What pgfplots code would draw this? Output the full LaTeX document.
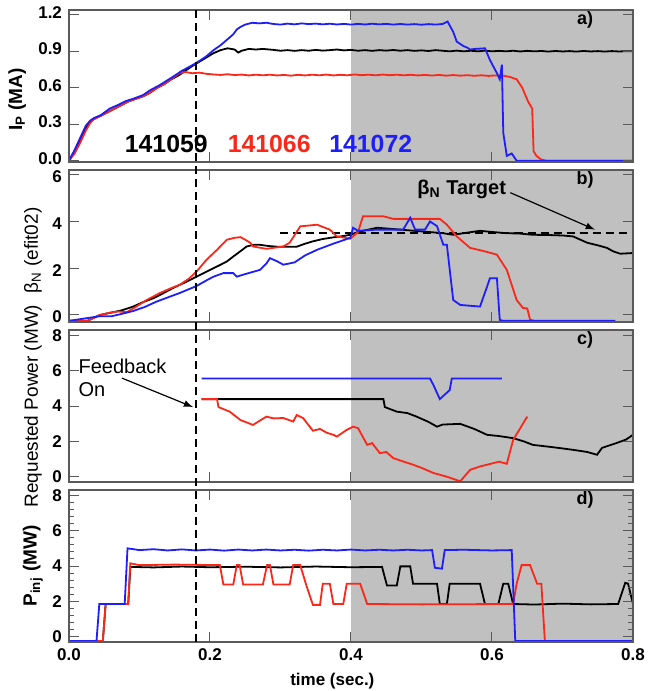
\documentclass[border=0pt]{standalone}
\usepackage{fontspec}
\setmainfont{Liberation Sans}
\usepackage{pgfplots}
\pgfplotsset{compat=1.18}

\definecolor{shade}{RGB}{192,192,192}
\definecolor{pred}{RGB}{250,40,25}
\definecolor{pblue}{RGB}{30,30,250}
\definecolor{frame}{RGB}{90,90,90}

\tikzset{tag/.style={font=\bfseries\fontsize{9}{10}\selectfont}}

\pgfplotsset{
  panel/.style={
    width=282pt, height=76pt, scale only axis,
    anchor=north west,
    xmin=0, xmax=0.8,
    xtick={0,0.2,0.4,0.6,0.8},
    xticklabels={},
    axis on top,
    axis line style={frame, line width=0.6pt},
    major tick length=5pt, minor tick length=2.5pt,
    every tick/.style={frame, line width=0.5pt},
    tick label style={font=\bfseries\fontsize{8.5}{10}\selectfont},
    /pgf/number format/assume math mode=true,
    ylabel style={anchor=center, font=\fontsize{9.5}{11}\selectfont},
    every axis plot/.append style={line width=0.9pt},
  },
  shading/.style={draw=none, fill=shade, forget plot},
}

\begin{document}
\begin{tikzpicture}
\useasboundingbox (0,0) rectangle (324.5pt,-345.5pt);

% ---------------- a) plasma current
\begin{axis}[panel, at={(34.5pt,-5pt)},
    ymin=-0.01, ymax=1.24,
    ytick={0,0.3,0.6,0.9,1.2},
    yticklabel style={yshift=1.2pt, /pgf/number format/.cd, fixed, fixed zerofill, precision=1},
    ylabel={\bfseries I\textsubscript{P} (MA)},
    ylabel style={at={(axis description cs:-0.092,0.41)}},
]
\addplot[shading] coordinates {(0.4,-1)(0.8,-1)(0.8,2)(0.4,2)} -- cycle;
\addplot[black] coordinates {
(0,0)(0.008,0.08)(0.016,0.17)(0.024,0.27)(0.03,0.32)(0.035,0.345)(0.045,0.37)(0.055,0.40)
(0.065,0.43)(0.075,0.46)(0.085,0.49)(0.095,0.51)(0.105,0.53)(0.115,0.56)(0.125,0.60)
(0.135,0.63)(0.145,0.67)(0.155,0.70)(0.165,0.74)(0.175,0.78)(0.185,0.815)(0.195,0.85)
(0.205,0.885)(0.215,0.91)(0.225,0.925)(0.235,0.915)(0.24,0.89)(0.245,0.905)(0.255,0.92)
(0.265,0.915)(0.275,0.92)(0.29,0.912)(0.30,0.905)(0.31,0.91)(0.32,0.904)(0.33,0.91)
(0.34,0.905)(0.35,0.912)(0.36,0.906)(0.37,0.91)(0.38,0.915)(0.39,0.908)(0.40,0.912)
(0.41,0.905)(0.42,0.91)(0.43,0.904)(0.44,0.91)(0.45,0.906)(0.46,0.911)(0.47,0.905)
(0.48,0.91)(0.49,0.904)(0.50,0.908)(0.51,0.903)(0.52,0.91)(0.53,0.905)(0.54,0.9)
(0.55,0.906)(0.56,0.9)(0.57,0.905)(0.58,0.9)(0.59,0.906)(0.60,0.9)(0.61,0.904)
(0.62,0.9)(0.63,0.905)(0.64,0.899)(0.65,0.904)(0.66,0.9)(0.67,0.903)(0.68,0.898)
(0.69,0.903)(0.70,0.899)(0.71,0.902)(0.72,0.898)(0.73,0.903)(0.74,0.899)(0.75,0.902)
(0.76,0.898)(0.77,0.902)(0.78,0.899)(0.79,0.901)(0.80,0.9)
};
\addplot[pred] coordinates {
(0,0)(0.008,0.06)(0.016,0.15)(0.024,0.25)(0.03,0.31)(0.035,0.34)(0.045,0.37)(0.055,0.40)
(0.065,0.43)(0.075,0.46)(0.085,0.49)(0.095,0.51)(0.105,0.53)(0.115,0.56)(0.125,0.60)
(0.135,0.63)(0.145,0.67)(0.152,0.70)(0.157,0.72)(0.165,0.73)(0.175,0.72)(0.185,0.725)
(0.195,0.715)(0.205,0.71)(0.215,0.706)(0.225,0.712)(0.235,0.705)(0.245,0.709)(0.255,0.702)
(0.265,0.708)(0.275,0.703)(0.285,0.708)(0.295,0.702)(0.305,0.706)(0.315,0.7)(0.325,0.707)
(0.335,0.702)(0.345,0.708)(0.355,0.703)(0.365,0.709)(0.375,0.702)(0.385,0.707)(0.395,0.703)
(0.405,0.71)(0.415,0.704)(0.425,0.708)(0.435,0.703)(0.445,0.709)(0.455,0.704)(0.465,0.708)
(0.475,0.703)(0.485,0.707)(0.495,0.702)(0.505,0.706)(0.515,0.701)(0.525,0.706)(0.535,0.7)
(0.545,0.705)(0.555,0.7)(0.565,0.704)(0.575,0.699)(0.585,0.703)(0.595,0.698)(0.605,0.702)
(0.616,0.70)(0.625,0.69)(0.635,0.67)(0.643,0.60)(0.651,0.49)(0.657,0.43)(0.659,0.08)
(0.663,0.04)(0.67,0.01)(0.677,0)(0.8,0)
};
\addplot[pblue] coordinates {
(0,0)(0.008,0.09)(0.016,0.19)(0.024,0.29)(0.03,0.33)(0.035,0.35)(0.045,0.375)(0.058,0.43)
(0.07,0.46)(0.08,0.49)(0.091,0.51)(0.105,0.54)(0.115,0.58)(0.128,0.62)(0.139,0.66)
(0.15,0.70)(0.16,0.74)(0.17,0.77)(0.179,0.80)(0.186,0.825)(0.195,0.86)(0.205,0.91)
(0.215,0.95)(0.225,1.0)(0.233,1.04)(0.238,1.08)(0.243,1.10)(0.25,1.12)(0.26,1.135)
(0.27,1.13)(0.28,1.135)(0.29,1.125)(0.30,1.12)(0.31,1.128)(0.32,1.122)(0.33,1.13)
(0.34,1.124)(0.35,1.128)(0.36,1.122)(0.37,1.127)(0.38,1.121)(0.39,1.126)(0.40,1.12)
(0.41,1.126)(0.42,1.121)(0.43,1.127)(0.44,1.122)(0.45,1.126)(0.46,1.12)(0.47,1.125)
(0.48,1.12)(0.49,1.124)(0.50,1.119)(0.51,1.124)(0.52,1.12)(0.53,1.125)(0.537,1.145)
(0.545,1.06)(0.55,0.98)(0.559,0.945)(0.565,0.93)(0.569,0.915)(0.576,0.92)(0.59,0.925)
(0.597,0.83)(0.607,0.72)(0.611,0.67)(0.614,0.79)(0.616,0.23)(0.621,0.04)(0.628,0.06)
(0.635,0.0)(0.8,0.0)
};
\node[tag, font=\bfseries\fontsize{12.4}{14}\selectfont, text=black] at (axis cs:0.138,0.14) {141059};
\node[tag, font=\bfseries\fontsize{12.4}{14}\selectfont, text=pred] at (axis cs:0.284,0.14) {141066};
\node[tag, font=\bfseries\fontsize{12.4}{14}\selectfont, text=pblue] at (axis cs:0.428,0.14) {141072};
\node[tag] at (axis description cs:0.915,0.934) {a)};
\path (axis cs:0.18,1.24) coordinate (dtop);
\end{axis}

% ---------------- b) beta_N
\begin{axis}[panel, at={(34.5pt,-85pt)},
    ymin=-0.3, ymax=6.2,
    ytick={0,2,4,6},
    yticklabel style={yshift=-1pt},
    ylabel={β\textsubscript{N} (efit02)},
    ylabel style={at={(axis description cs:-0.064,0.47)}},
]
\addplot[shading] coordinates {(0.4,-1)(0.8,-1)(0.8,7)(0.4,7)} -- cycle;
\addplot[black, line width=0.8pt, dash pattern=on 4pt off 2.5pt] coordinates {(0.30,3.5)(0.8,3.5)};
\addplot[black] coordinates {
(0,-0.25)(0.026,-0.25)(0.044,0.0)(0.058,0.09)(0.075,0.2)(0.091,0.36)(0.105,0.55)(0.12,0.72)
(0.135,0.95)(0.148,1.16)(0.165,1.4)(0.181,1.64)(0.195,1.85)(0.205,2.0)(0.215,2.15)
(0.224,2.29)(0.233,2.5)(0.242,2.7)(0.252,2.93)(0.262,3.0)(0.271,3.0)(0.283,2.95)
(0.295,2.92)(0.31,2.92)(0.323,2.92)(0.335,3.05)(0.346,3.15)(0.36,3.25)(0.375,3.32)
(0.39,3.38)(0.399,3.43)(0.41,3.55)(0.42,3.62)(0.437,3.73)(0.45,3.7)(0.47,3.65)(0.49,3.6)
(0.51,3.55)(0.53,3.5)(0.545,3.43)(0.56,3.5)(0.583,3.6)(0.6,3.55)(0.62,3.5)(0.64,3.48)
(0.658,3.43)(0.68,3.42)(0.7,3.4)(0.715,3.36)(0.735,3.09)(0.75,2.98)(0.763,2.87)
(0.772,2.72)(0.782,2.62)(0.8,2.65)
};
\addplot[pred] coordinates {
(0,-0.25)(0.026,-0.25)(0.044,0.0)(0.058,0.1)(0.07,0.15)(0.082,0.12)(0.095,0.35)(0.11,0.64)
(0.129,0.94)(0.145,1.15)(0.157,1.29)(0.17,1.55)(0.181,1.86)(0.195,2.36)(0.21,2.79)
(0.224,3.22)(0.235,3.3)(0.243,3.33)(0.25,3.22)(0.257,3.09)(0.261,2.93)(0.28,2.83)
(0.304,2.93)(0.313,3.09)(0.328,3.79)(0.352,3.86)(0.37,3.65)(0.38,3.36)(0.399,3.26)
(0.41,3.55)(0.417,4.22)(0.446,4.22)(0.46,4.11)(0.526,4.11)(0.536,3.86)(0.55,3.36)
(0.569,2.87)(0.59,2.72)(0.607,2.58)(0.621,1.93)(0.635,0.64)(0.644,0.3)(0.65,0.28)
(0.654,-0.2)(0.66,-0.25)
};
\addplot[pblue] coordinates {
(0,-0.25)(0.044,-0.05)(0.061,-0.05)(0.075,0.05)(0.091,0.17)(0.108,0.35)(0.124,0.57)
(0.14,0.75)(0.157,0.94)(0.181,1.24)(0.195,1.48)(0.205,1.64)(0.219,1.79)(0.233,1.79)
(0.238,1.64)(0.25,1.75)(0.271,1.93)(0.28,2.2)(0.285,2.43)(0.295,2.3)(0.304,2.15)
(0.32,2.25)(0.335,2.55)(0.352,2.79)(0.375,3.05)(0.399,3.3)(0.403,3.73)(0.41,3.6)
(0.437,3.65)(0.474,3.65)(0.484,4.16)(0.491,3.65)(0.505,3.65)(0.512,4.0)(0.522,3.8)
(0.531,3.0)(0.536,3.0)(0.545,0.64)(0.555,0.43)(0.583,0.36)(0.593,1.21)(0.597,1.57)
(0.607,1.57)(0.611,-0.21)(0.616,-0.25)(0.775,-0.25)
};
\node[tag, font=\bfseries\fontsize{10}{12}\selectfont] at (axis cs:0.557,5.36) {β\textsubscript{N} Target};
\draw[-latex, line width=0.6pt] (axis cs:0.626,5.23) -- (axis cs:0.746,3.65);
\node[tag] at (axis description cs:0.915,0.934) {b)};
\end{axis}

% ---------------- c) requested power
\begin{axis}[panel, at={(34.5pt,-165pt)},
    ymin=-0.3, ymax=8.3,
    ytick={0,2,4,6,8},
    ylabel={Requested Power (MW)},
    ylabel style={at={(axis description cs:-0.064,0.5)}},
]
\addplot[shading] coordinates {(0.4,-1)(0.8,-1)(0.8,9)(0.4,9)} -- cycle;
\addplot[black] coordinates {
(0.188,4.39)(0.446,4.39)(0.448,3.94)(0.465,3.68)(0.48,3.6)(0.493,3.4)(0.51,3.1)(0.522,2.83)
(0.53,2.95)(0.555,2.99)(0.575,2.7)(0.593,2.37)(0.61,2.3)(0.63,2.18)(0.645,2.0)(0.658,1.8)
(0.68,1.7)(0.7,1.6)(0.715,1.52)(0.735,1.4)(0.749,1.24)(0.756,1.63)(0.777,1.91)(0.79,2.1)
(0.8,2.37)
};
\addplot[pred] coordinates {
(0.188,4.39)(0.21,4.39)(0.212,3.94)(0.228,3.68)(0.243,3.21)(0.261,2.93)(0.28,3.4)(0.29,3.3)
(0.304,3.32)(0.318,3.12)(0.323,3.49)(0.332,3.32)(0.346,2.6)(0.356,2.7)(0.366,2.48)
(0.375,2.37)(0.38,2.27)(0.394,2.65)(0.403,2.83)(0.41,2.75)(0.423,1.8)(0.43,1.9)(0.441,1.33)
(0.45,1.4)(0.46,1.05)(0.475,0.85)(0.488,0.68)(0.5,0.5)(0.517,0.21)(0.536,0.0)(0.555,-0.26)
(0.569,0.39)(0.583,0.58)(0.602,0.77)(0.61,0.85)(0.621,0.73)(0.63,2.08)(0.65,3.4)
};
\addplot[pblue] coordinates {
(0.188,5.56)(0.512,5.56)(0.517,5.18)(0.526,4.39)(0.54,4.9)(0.543,5.56)(0.614,5.56)
};
\node[align=left, anchor=north west, inner sep=0pt, font=\fontsize{10}{11.5}\selectfont]
  at (axis cs:0.013,6.7) {Feedback\\On};
\draw[-latex, line width=0.6pt] (axis cs:0.075,5.58) -- (axis cs:0.176,3.94);
\node[tag] at (axis description cs:0.915,0.934) {c)};
\end{axis}

% ---------------- d) injected power
\begin{axis}[panel, at={(34.5pt,-245pt)},
    ymin=-0.3, ymax=8.3,
    ytick={0,2,4,6,8},
    minor y tick num=4,
    xticklabels={0.0,0.2,0.4,0.6,0.8},
    xlabel={\bfseries time (sec.)},
    xlabel style={font=\fontsize{8.5}{10}\selectfont, at={(axis description cs:0.467,0)}, yshift=-12pt},
    ylabel={\bfseries P\textsubscript{inj} (MW)},
    ylabel style={at={(axis description cs:-0.064,0.5)}},
]
\addplot[shading] coordinates {(0.4,-1)(0.8,-1)(0.8,9)(0.4,9)} -- cycle;
\addplot[black] coordinates {
(0,-0.25)(0.048,-0.25)(0.052,1.85)(0.084,1.85)(0.087,3.95)(0.12,3.92)(0.16,3.97)(0.2,3.93)
(0.25,3.96)(0.3,3.92)(0.35,3.97)(0.4,3.93)(0.444,3.95)(0.451,2.9)(0.465,2.9)(0.47,3.98)
(0.484,3.98)(0.488,3.0)(0.522,3.0)(0.526,1.85)(0.536,1.85)(0.54,3.0)(0.583,3.0)(0.59,1.85)
(0.609,1.85)(0.616,3.0)(0.623,3.0)(0.63,1.85)(0.66,1.82)(0.7,1.87)(0.74,1.83)(0.779,1.85)
(0.789,3.05)(0.793,3.0)(0.8,1.85)
};
\addplot[pred] coordinates {
(0,-0.25)(0.048,-0.25)(0.052,1.85)(0.084,1.85)(0.087,4.15)(0.1,4.05)(0.15,4.08)(0.214,4.05)
(0.219,2.95)(0.233,2.95)(0.238,4.05)(0.242,4.05)(0.247,2.95)(0.275,2.95)(0.281,4.05)
(0.285,4.05)(0.29,2.95)(0.313,2.95)(0.318,4.05)(0.328,4.05)(0.337,2.86)(0.346,1.8)
(0.356,1.8)(0.36,3.0)(0.37,3.0)(0.375,1.85)(0.389,1.85)(0.394,3.0)(0.413,3.0)(0.423,1.85)
(0.5,1.83)(0.63,1.85)(0.635,3.0)(0.642,4.05)(0.654,4.05)(0.664,3.0)(0.67,3.0)(0.675,-0.25)
(0.8,-0.25)
};
\addplot[pblue] coordinates {
(0,-0.25)(0.039,-0.25)(0.043,1.85)(0.079,1.85)(0.083,5.0)(0.1,4.9)(0.12,4.95)(0.14,4.88)
(0.16,4.94)(0.18,4.88)(0.2,4.93)(0.22,4.87)(0.24,4.93)(0.26,4.88)(0.28,4.93)(0.3,4.88)
(0.32,4.92)(0.34,4.87)(0.36,4.92)(0.38,4.88)(0.4,4.93)(0.42,4.88)(0.44,4.92)(0.46,4.88)
(0.48,4.92)(0.5,4.88)(0.515,4.9)(0.519,3.9)(0.529,3.85)(0.533,4.9)(0.56,4.92)(0.6,4.88)
(0.628,4.9)(0.633,-0.25)(0.8,-0.25)
};
\node[tag] at (axis description cs:0.915,0.934) {d)};
\path (axis cs:0.18,-0.3) coordinate (dbot);
\end{axis}

\draw[black, line width=0.8pt, dash pattern=on 4pt off 2.5pt] (dtop) -- (dbot);
\end{tikzpicture}
\end{document}
